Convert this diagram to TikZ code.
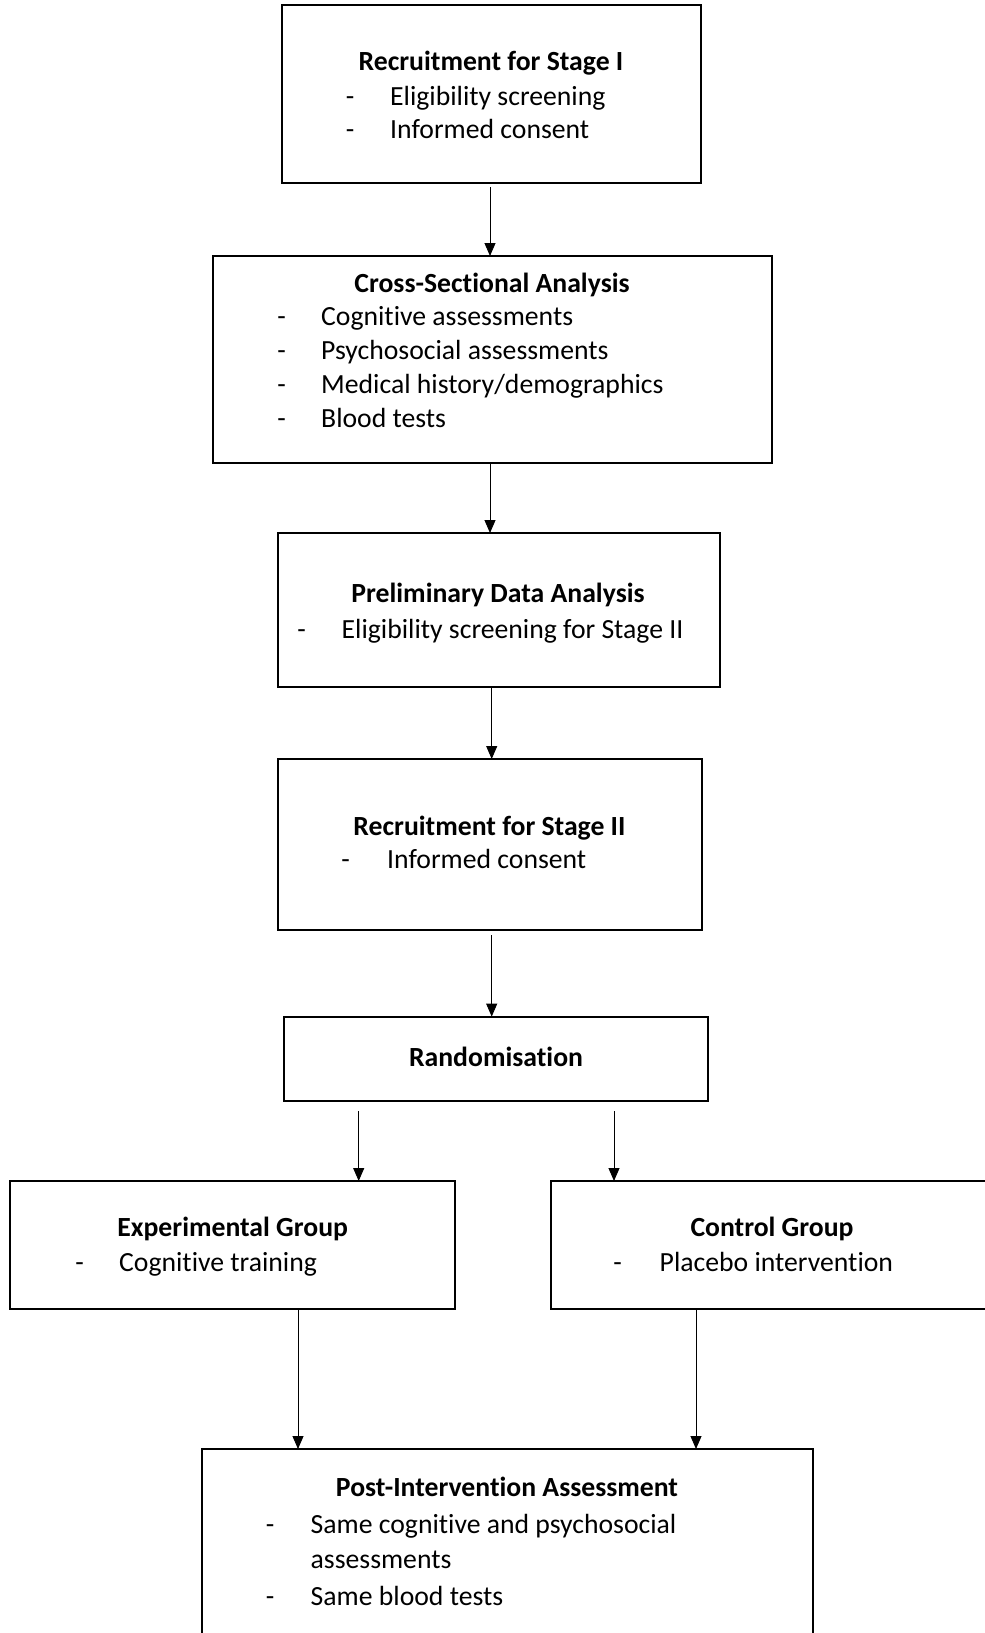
\documentclass[tikz,border=0pt]{standalone}
\usepackage{fontspec}
\setmainfont{Carlito}[Ligatures=NoCommon]
\usetikzlibrary{arrows.meta}
\tikzset{
  box/.style={draw=black, line width=2pt, rectangle, inner sep=0pt, outer sep=0pt, fill=none},
  arr/.style={draw=black, line width=1pt, -{Triangle[length=13pt,width=11pt]}},
  ttl/.style={anchor=base, inner sep=0pt, font=\bfseries},
  dsh/.style={anchor=base, inner sep=0pt},
  itm/.style={anchor=base west, inner sep=0pt},
}
\begin{document}
\begin{tikzpicture}[x=1pt,y=-1pt]
\fontsize{27.7}{34}\selectfont
\useasboundingbox (0,0) rectangle (985,1633);
\clip (0,0) rectangle (985,1633);
\fill[white] (0,0) rectangle (985,1633);

% boxes
\node[box, minimum width=419pt, minimum height=178pt] (b1) at (491,94) {};
\node[box, minimum width=559pt, minimum height=207pt] (b2) at (492.5,359.5) {};
\node[box, minimum width=442pt, minimum height=154pt] (b3) at (499,610) {};
\node[box, minimum width=424pt, minimum height=171pt] (b4) at (490,844.5) {};
\node[box, minimum width=424pt, minimum height=84pt] (b5) at (496,1058.6) {};
\node[box, minimum width=445pt, minimum height=128pt] (b6) at (232.5,1245) {};
\node[box, minimum width=445pt, minimum height=128pt] (b7) at (773.5,1245) {};
\node[box, minimum width=611pt, minimum height=200pt] (b8) at (507.5,1549) {};

% box 1
\node[ttl] (t1) at (491,70) {Recruitment for Stage I};
\node[dsh] (d1a) at (350,105) {-};
\node[itm] (i1a) at (390,105) {Eligibility screening};
\node[dsh] (d1b) at (350,138) {-};
\node[itm] (i1b) at (390,138) {Informed consent};

% box 2
\node[ttl] (t2) at (492,292.5) {Cross-Sectional Analysis};
\node[dsh] (d2a) at (281.5,325.5) {-};
\node[itm] (i2a) at (321,325.5) {Cognitive assessments};
\node[dsh] (d2b) at (281.5,359.5) {-};
\node[itm] (i2b) at (321,359.5) {Psychosocial assessments};
\node[dsh] (d2c) at (281.5,393.5) {-};
\node[itm] (i2c) at (321,393.5) {Medical history/demographics};
\node[dsh] (d2d) at (281.5,427.5) {-};
\node[itm] (i2d) at (321,427.5) {Blood tests};

% box 3
\node[ttl] (t3) at (498,602) {Preliminary Data Analysis};
\node[dsh] (d3a) at (301.5,638) {-};
\node[itm] (i3a) at (341.5,638) {Eligibility screening for Stage II};

% box 4
\node[ttl] (t4) at (489.5,835.5) {Recruitment for Stage II};
\node[dsh] (d4a) at (345.5,868.5) {-};
\node[itm] (i4a) at (387,868.5) {Informed consent};

% box 5
\node[ttl] (t5) at (496,1066.5) {Randomisation};

% box 6
\node[ttl] (t6) at (232.7,1236) {Experimental Group};
\node[dsh] (d6a) at (79.5,1271) {-};
\node[itm] (i6a) at (119,1271) {Cognitive training};

% box 7
\node[ttl] (t7) at (772,1236) {Control Group};
\node[dsh] (d7a) at (617.5,1271) {-};
\node[itm] (i7a) at (659.5,1271) {Placebo intervention};

% box 8
\node[ttl] (t8) at (507,1496) {Post-Intervention Assessment};
\node[dsh] (d8a) at (270,1533) {-};
\node[itm] (i8a) at (310.5,1533) {Same cognitive and psychosocial};
\node[itm] (i8b) at (310.5,1568.5) {assessments};
\node[dsh] (d8c) at (270,1605) {-};
\node[itm] (i8c) at (310.5,1605) {Same blood tests};

% connector start points
\coordinate (s1) at (490,187);
\coordinate (s2) at (490,464);
\coordinate (s3) at (491.7,688);
\coordinate (s4) at (491.7,935);
\coordinate (s5) at (358.7,1111);
\coordinate (s6) at (614,1111);
\coordinate (s7) at (298,1310);
\coordinate (s8) at (696,1310);

\draw[arr] (s1) -- (s1 |- b2.north);
\draw[arr] (s2) -- (s2 |- b3.north);
\draw[arr] (s3) -- (s3 |- b4.north);
\draw[arr] (s4) -- (s4 |- b5.north);
\draw[arr] (s5) -- (s5 |- b6.north);
\draw[arr] (s6) -- (s6 |- b7.north);
\draw[arr] (s7) -- (s7 |- b8.north);
\draw[arr] (s8) -- (s8 |- b8.north);
\end{tikzpicture}
\end{document}
